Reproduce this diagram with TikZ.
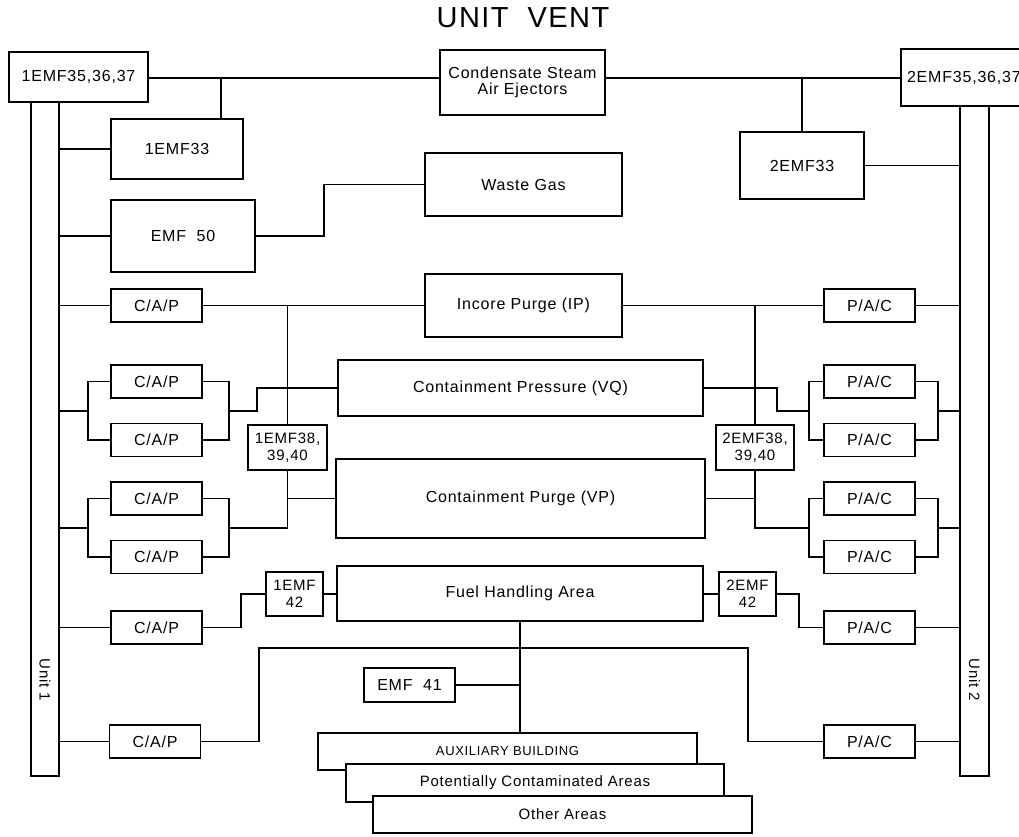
\documentclass[tikz,border=0pt]{standalone}
\usepackage{fontspec}
\setmainfont{Liberation Sans}[LetterSpace=5]
\newcommand\fA{\fontsize{16}{16}\selectfont}
\newcommand\fB{\fontsize{15}{17}\selectfont}
\newcommand\fC{\fontsize{13}{15}\selectfont}
\newcommand\fT{\fontsize{29}{32}\selectfont}
\begin{document}
\begin{tikzpicture}[x=1pt,y=-1pt,
  box/.style={draw, line width=1.6pt, inner sep=0pt, align=center, fill=white, font=\fA},
  capbox/.style={box, minimum width=91pt, minimum height=33pt},
  conn/.style={line width=1.5pt}]
\useasboundingbox (0,0) rectangle (1019,836);

% title
\node[font=\fT] (title) at (523,18) {UNIT\ \ VENT};

% top boxes
\node[box, minimum width=139pt, minimum height=50pt] (e1) at (78.5,77) {1EMF35,36,37};
\node[box, text width=127pt, inner xsep=6pt, align=left, minimum height=57pt] (e2) at (970.5,77.5) {2EMF35,36,37};
\node[box, minimum width=165pt, minimum height=65pt] (cse) at (522.5,82.5) {Condensate Steam\\Air Ejectors};
\node[box, minimum width=132pt, minimum height=60pt] (m33a) at (177,149) {1EMF33};
\node[box, minimum width=124pt, minimum height=67pt] (m33b) at (802,165.5) {2EMF33};
\node[box, minimum width=144pt, minimum height=72pt] (emf50) at (183,236) {EMF\ \ 50};
\node[box, minimum width=197pt, minimum height=63pt] (waste) at (523.5,184.5) {Waste Gas};

% unit bars
\node[box, minimum width=28pt, minimum height=674pt] (u1bar) at (45,439) {};
\node[box, minimum width=29pt, minimum height=670pt] (u2bar) at (974.5,441) {};
\node[font=\fontsize{15}{15}\selectfont, rotate=-90] (u1lbl) at (45,680) {Unit 1};
\node[font=\fontsize{15}{15}\selectfont, rotate=-90] (u2lbl) at (974.5,680) {Unit 2};

% central boxes
\node[box, minimum width=197pt, minimum height=63pt] (incore) at (523.5,305.5) {Incore Purge (IP)};
\node[box, minimum width=365pt, minimum height=56pt] (cpress) at (520.5,388) {Containment Pressure (VQ)};
\node[box, minimum width=369pt, minimum height=79pt] (cpurge) at (520.5,498.5) {Containment Purge (VP)};
\node[box, minimum width=366pt, minimum height=55pt] (fha) at (520,593.5) {Fuel Handling Area};
\node[box, font=\fB, minimum width=79pt, minimum height=45pt] (e38a) at (287.5,447.5) {1EMF38,\\39,40};
\node[box, font=\fB, minimum width=78pt, minimum height=45pt] (e38b) at (755,447.5) {2EMF38,\\39,40};
\node[box, font=\fB, minimum width=57pt, minimum height=44pt] (e42a) at (294.5,594) {1EMF\\42};
\node[box, font=\fB, minimum width=57pt, minimum height=44pt] (e42b) at (747.5,594) {2EMF\\42};
\node[box, minimum width=91pt, minimum height=34pt] (emf41) at (409.5,685) {EMF\ \ 41};

% left C/A/P
\node[capbox] (capA) at (156.5,305.5) {C/A/P};
\node[capbox] (capB1) at (156.5,381.5) {C/A/P};
\node[capbox] (capB2) at (156.5,440) {C/A/P};
\node[capbox] (capC1) at (156.5,498.5) {C/A/P};
\node[capbox] (capC2) at (156.5,557) {C/A/P};
\node[capbox] (capD) at (156.5,627.5) {C/A/P};
\node[capbox] (capE) at (155,741.5) {C/A/P};
% right P/A/C
\node[capbox] (pacA) at (869.5,305.5) {P/A/C};
\node[capbox] (pacB1) at (869.5,381.5) {P/A/C};
\node[capbox] (pacB2) at (869.5,440) {P/A/C};
\node[capbox] (pacC1) at (869.5,498.5) {P/A/C};
\node[capbox] (pacC2) at (869.5,557) {P/A/C};
\node[capbox] (pacD) at (869.5,627.5) {P/A/C};
\node[capbox] (pacE) at (869.5,741.5) {P/A/C};

% junction coordinates
\coordinate (j1) at (221,78);
\coordinate (j2) at (802,78);
\coordinate (lb1) at (88,410.75);
\coordinate (rb1) at (229,410.75);
\coordinate (lc1) at (88,527.75);
\coordinate (rc1) at (229,527.75);
\coordinate (lb2) at (809,410.75);
\coordinate (rb2) at (938,410.75);
\coordinate (lc2) at (809,527.75);
\coordinate (rc2) at (938,527.75);
\coordinate (hl) at (259,648);
\coordinate (hr) at (748,648);

% top connectors
\draw[conn] (e1.east |- j1) -- (cse.west |- j1);
\draw[conn] (cse.east |- j1) -- (e2.west |- j1);
\draw[conn] (j1) -- (j1 |- m33a.north);
\draw[conn] (j2) -- (m33b.north);
\draw[conn] (u1bar.east |- m33a.west) -- (m33a.west);
\draw[conn] (u1bar.east |- emf50.west) -- (emf50.west);
\draw[conn] (emf50.east) -- ++(68,0) |- (waste.west);
\draw[conn] (m33b.east) -- (m33b.east -| u2bar.west);

% IP row
\draw[conn] (u1bar.east |- capA.west) -- (capA.west);
\draw[conn] (capA.east) -- (incore.west);
\draw[conn] (incore.east) -- (pacA.west);
\draw[conn] (pacA.east) -- (pacA.east -| u2bar.west);
\draw[conn] (e38a.north |- capA.east) -- (e38a.north);
\draw[conn] (e38b.north |- pacA.west) -- (e38b.north);

% left pair B
\draw[conn] (capB1.west) -| (lb1) |- (capB2.west);
\draw[conn] (capB1.east) -| (rb1) |- (capB2.east);
\draw[conn] (u1bar.east |- lb1) -- (lb1);
\draw[conn] (rb1) -- ++(28,0) |- (cpress.west);
% left pair C
\draw[conn] (capC1.west) -| (lc1) |- (capC2.west);
\draw[conn] (capC1.east) -| (rc1) |- (capC2.east);
\draw[conn] (u1bar.east |- lc1) -- (lc1);
\draw[conn] (rc1) -| (e38a.south);
\draw[conn] (e38a.south |- cpurge.west) -- (cpurge.west);

% right pair B
\draw[conn] (cpress.east) -- ++(73,0) |- (lb2);
\draw[conn] (pacB1.west) -| (lb2) |- (pacB2.west);
\draw[conn] (pacB1.east) -| (rb2) |- (pacB2.east);
\draw[conn] (rb2) -- (rb2 -| u2bar.west);
% right pair C
\draw[conn] (e38b.south) |- (lc2);
\draw[conn] (e38b.south |- cpurge.east) -- (cpurge.east);
\draw[conn] (pacC1.west) -| (lc2) |- (pacC2.west);
\draw[conn] (pacC1.east) -| (rc2) |- (pacC2.east);
\draw[conn] (rc2) -- (rc2 -| u2bar.west);

% FHA row
\draw[conn] (u1bar.east |- capD.west) -- (capD.west);
\draw[conn] (capD.east) -- ++(38,0) |- (e42a.west);
\draw[conn] (e42a.east) -- (e42a.east -| fha.west);
\draw[conn] (fha.east |- e42b.west) -- (e42b.west);
\draw[conn] (e42b.east) -- ++(22,0) |- (pacD.west);
\draw[conn] (pacD.east) -- (pacD.east -| u2bar.west);

% bottom row
\draw[conn] (u1bar.east |- capE.west) -- (capE.west);
\draw[conn] (capE.east) -| (hl) -- (hr) |- (pacE.west);
\draw[conn] (pacE.east) -- (pacE.east -| u2bar.west);

% stacked area boxes
\node[box, font=\fC, minimum width=379pt, minimum height=37pt] (aux) at (507.5,751.5) {AUXILIARY BUILDING};
\draw[conn] (fha.south) -- (fha.south |- aux.north);
\draw[conn] (emf41.east) -- (emf41.east -| fha.south);
\node[box, font=\fontsize{15}{15}\selectfont, minimum width=378pt, minimum height=38pt] (pca) at (535,783) {Potentially Contaminated Areas};
\node[box, font=\fontsize{15}{15}\selectfont, minimum width=379pt, minimum height=37pt] (oth) at (562.5,814.5) {Other Areas};
\end{tikzpicture}
\end{document}
